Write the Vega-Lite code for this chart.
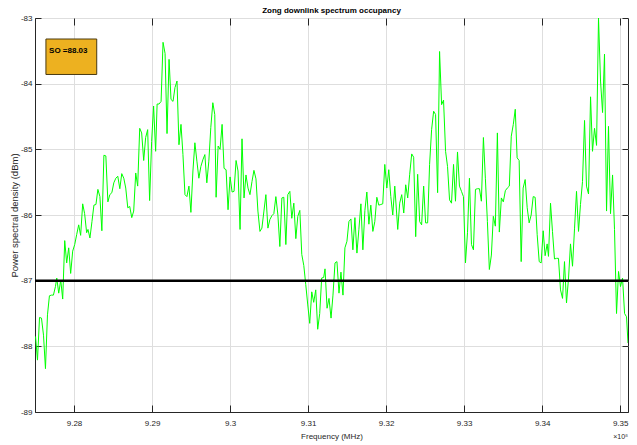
{
  "$schema": "https://vega.github.io/schema/vega-lite/v6.json",
  "width": 593,
  "height": 394,
  "autosize": {"type": "none"},
  "padding": {"left": 35, "top": 18, "right": 9, "bottom": 33},
  "background": "white",
  "title": {"text": "Zong downlink spectrum occupancy", "fontSize": 8, "fontWeight": "bold", "color": "#000000", "offset": -1},
  "config": {
    "font": "Liberation Sans, Arial, sans-serif",
    "view": {"stroke": "#262626", "strokeWidth": 1},
    "axis": {"domainColor": "#262626", "tickColor": "#262626", "labelColor": "#262626", "titleColor": "#262626", "gridColor": "#dedede", "gridWidth": 1, "labelFontSize": 8, "titleFontWeight": "normal"}
  },
  "datasets": {
    "psd": [
      {"freq":927.507,"psd":-87.85},{"freq":927.532,"psd":-88.21},{"freq":927.558,"psd":-87.56},{"freq":927.583,"psd":-87.57},{"freq":927.609,"psd":-87.83},{"freq":927.634,"psd":-88.34},{"freq":927.660,"psd":-87.52},{"freq":927.685,"psd":-87.23},{"freq":927.711,"psd":-87.22},{"freq":927.736,"psd":-87.22},{"freq":927.762,"psd":-87.09},{"freq":927.779,"psd":-86.96},{"freq":927.804,"psd":-87.19},{"freq":927.830,"psd":-86.99},{"freq":927.855,"psd":-87.28},{"freq":927.881,"psd":-86.39},{"freq":927.906,"psd":-86.73},{"freq":927.932,"psd":-86.50},{"freq":927.957,"psd":-86.89},{"freq":927.983,"psd":-86.55},
      {"freq":928.009,"psd":-86.45},{"freq":928.034,"psd":-86.30},{"freq":928.060,"psd":-86.15},{"freq":928.085,"psd":-86.31},{"freq":928.111,"psd":-85.83},{"freq":928.136,"psd":-85.98},{"freq":928.162,"psd":-86.27},{"freq":928.179,"psd":-86.22},{"freq":928.204,"psd":-86.35},{"freq":928.230,"psd":-86.10},{"freq":928.255,"psd":-85.85},{"freq":928.281,"psd":-85.84},{"freq":928.306,"psd":-85.61},{"freq":928.332,"psd":-85.72},{"freq":928.357,"psd":-86.24},{"freq":928.383,"psd":-85.09},{"freq":928.408,"psd":-85.10},{"freq":928.434,"psd":-85.80},{"freq":928.459,"psd":-85.69},{"freq":928.485,"psd":-85.66},
      {"freq":928.510,"psd":-85.51},{"freq":928.536,"psd":-85.44},{"freq":928.561,"psd":-85.41},{"freq":928.587,"psd":-85.60},{"freq":928.612,"psd":-85.37},{"freq":928.638,"psd":-85.44},{"freq":928.663,"psd":-85.59},{"freq":928.689,"psd":-85.89},{"freq":928.714,"psd":-85.87},{"freq":928.740,"psd":-86.04},{"freq":928.765,"psd":-85.94},{"freq":928.791,"psd":-85.36},{"freq":928.816,"psd":-85.56},{"freq":928.842,"psd":-84.68},{"freq":928.867,"psd":-84.75},{"freq":928.893,"psd":-85.17},{"freq":928.918,"psd":-84.82},{"freq":928.944,"psd":-84.70},{"freq":928.969,"psd":-85.78},{"freq":928.995,"psd":-84.88},
      {"freq":929.020,"psd":-84.34},{"freq":929.046,"psd":-85.03},{"freq":929.065,"psd":-84.31},{"freq":929.090,"psd":-84.31},{"freq":929.116,"psd":-84.27},{"freq":929.141,"psd":-83.37},{"freq":929.167,"psd":-83.54},{"freq":929.192,"psd":-84.76},{"freq":929.218,"psd":-83.63},{"freq":929.243,"psd":-84.24},{"freq":929.269,"psd":-84.27},{"freq":929.294,"psd":-84.06},{"freq":929.320,"psd":-83.96},{"freq":929.345,"psd":-84.93},{"freq":929.371,"psd":-84.62},{"freq":929.396,"psd":-85.08},{"freq":929.422,"psd":-85.69},{"freq":929.447,"psd":-85.72},{"freq":929.473,"psd":-85.56},{"freq":929.498,"psd":-85.96},
      {"freq":929.524,"psd":-85.33},{"freq":929.549,"psd":-84.90},{"freq":929.575,"psd":-85.18},{"freq":929.600,"psd":-85.44},{"freq":929.626,"psd":-85.26},{"freq":929.651,"psd":-85.16},{"freq":929.677,"psd":-85.08},{"freq":929.702,"psd":-85.51},{"freq":929.728,"psd":-85.18},{"freq":929.753,"psd":-84.67},{"freq":929.779,"psd":-84.29},{"freq":929.804,"psd":-84.47},{"freq":929.821,"psd":-85.73},{"freq":929.847,"psd":-84.95},{"freq":929.872,"psd":-85.00},{"freq":929.898,"psd":-84.62},{"freq":929.923,"psd":-85.29},{"freq":929.949,"psd":-85.31},{"freq":929.974,"psd":-85.92},{"freq":930.000,"psd":-85.42},
      {"freq":930.026,"psd":-85.65},{"freq":930.051,"psd":-85.64},{"freq":930.077,"psd":-85.17},{"freq":930.102,"psd":-85.33},{"freq":930.128,"psd":-86.22},{"freq":930.153,"psd":-84.84},{"freq":930.179,"psd":-85.74},{"freq":930.204,"psd":-85.39},{"freq":930.230,"psd":-85.59},{"freq":930.255,"psd":-85.69},{"freq":930.281,"psd":-85.49},{"freq":930.306,"psd":-85.32},{"freq":930.332,"psd":-85.45},{"freq":930.357,"psd":-85.94},{"freq":930.383,"psd":-86.25},{"freq":930.408,"psd":-86.20},{"freq":930.434,"psd":-85.94},{"freq":930.459,"psd":-85.69},{"freq":930.485,"psd":-86.20},{"freq":930.510,"psd":-86.07},
      {"freq":930.536,"psd":-86.01},{"freq":930.561,"psd":-85.98},{"freq":930.587,"psd":-85.72},{"freq":930.613,"psd":-86.00},{"freq":930.638,"psd":-86.48},{"freq":930.664,"psd":-85.74},{"freq":930.689,"psd":-85.73},{"freq":930.715,"psd":-86.45},{"freq":930.740,"psd":-85.69},{"freq":930.766,"psd":-85.64},{"freq":930.791,"psd":-86.05},{"freq":930.817,"psd":-85.82},{"freq":930.843,"psd":-86.36},{"freq":930.868,"psd":-86.02},{"freq":930.894,"psd":-85.93},{"freq":930.919,"psd":-86.60},{"freq":930.945,"psd":-86.77},{"freq":930.970,"psd":-87.06},{"freq":930.996,"psd":-87.37},{"freq":931.021,"psd":-87.65},
      {"freq":931.047,"psd":-87.17},{"freq":931.072,"psd":-87.33},{"freq":931.098,"psd":-87.14},{"freq":931.123,"psd":-87.74},{"freq":931.149,"psd":-87.50},{"freq":931.174,"psd":-86.96},{"freq":931.200,"psd":-86.95},{"freq":931.217,"psd":-86.82},{"freq":931.243,"psd":-87.42},{"freq":931.268,"psd":-87.27},{"freq":931.294,"psd":-87.57},{"freq":931.319,"psd":-87.22},{"freq":931.345,"psd":-86.73},{"freq":931.370,"psd":-86.71},{"freq":931.396,"psd":-87.19},{"freq":931.421,"psd":-86.87},{"freq":931.447,"psd":-87.22},{"freq":931.472,"psd":-86.50},{"freq":931.498,"psd":-86.40},{"freq":931.523,"psd":-86.10},
      {"freq":931.549,"psd":-86.06},{"freq":931.574,"psd":-86.53},{"freq":931.600,"psd":-86.04},{"freq":931.626,"psd":-86.58},{"freq":931.651,"psd":-86.22},{"freq":931.677,"psd":-85.83},{"freq":931.702,"psd":-86.53},{"freq":931.728,"psd":-85.93},{"freq":931.753,"psd":-85.65},{"freq":931.779,"psd":-86.14},{"freq":931.804,"psd":-85.85},{"freq":931.830,"psd":-86.25},{"freq":931.855,"psd":-86.10},{"freq":931.881,"psd":-85.73},{"freq":931.906,"psd":-85.85},{"freq":931.932,"psd":-85.84},{"freq":931.957,"psd":-85.83},{"freq":931.983,"psd":-85.23},{"freq":932.009,"psd":-85.59},{"freq":932.034,"psd":-85.31},
      {"freq":932.060,"psd":-85.72},{"freq":932.085,"psd":-86.00},{"freq":932.111,"psd":-85.56},{"freq":932.149,"psd":-86.22},{"freq":932.174,"psd":-85.82},{"freq":932.200,"psd":-85.69},{"freq":932.226,"psd":-85.97},{"freq":932.251,"psd":-85.54},{"freq":932.277,"psd":-85.74},{"freq":932.302,"psd":-85.38},{"freq":932.328,"psd":-85.07},{"freq":932.353,"psd":-85.12},{"freq":932.379,"psd":-86.33},{"freq":932.404,"psd":-85.38},{"freq":932.430,"psd":-86.10},{"freq":932.455,"psd":-86.15},{"freq":932.481,"psd":-85.56},{"freq":932.506,"psd":-86.12},{"freq":932.532,"psd":-86.12},{"freq":932.557,"psd":-85.23},
      {"freq":932.583,"psd":-84.70},{"freq":932.609,"psd":-84.42},{"freq":932.634,"psd":-84.47},{"freq":932.660,"psd":-85.66},{"freq":932.685,"psd":-83.51},{"freq":932.711,"psd":-84.32},{"freq":932.736,"psd":-84.25},{"freq":932.762,"psd":-85.03},{"freq":932.787,"psd":-85.26},{"freq":932.813,"psd":-85.77},{"freq":932.838,"psd":-85.82},{"freq":932.864,"psd":-85.23},{"freq":932.889,"psd":-85.79},{"freq":932.915,"psd":-85.04},{"freq":932.940,"psd":-85.56},{"freq":932.966,"psd":-85.64},{"freq":932.991,"psd":-85.72},{"freq":933.017,"psd":-86.73},{"freq":933.043,"psd":-86.27},{"freq":933.068,"psd":-85.44},
      {"freq":933.094,"psd":-86.45},{"freq":933.119,"psd":-86.53},{"freq":933.145,"psd":-85.61},{"freq":933.170,"psd":-85.60},{"freq":933.196,"psd":-85.60},{"freq":933.221,"psd":-85.79},{"freq":933.247,"psd":-84.82},{"freq":933.272,"psd":-85.44},{"freq":933.298,"psd":-86.10},{"freq":933.323,"psd":-86.83},{"freq":933.349,"psd":-86.61},{"freq":933.374,"psd":-86.02},{"freq":933.400,"psd":-86.17},{"freq":933.426,"psd":-84.75},{"freq":933.451,"psd":-86.26},{"freq":933.477,"psd":-85.74},{"freq":933.502,"psd":-85.80},{"freq":933.528,"psd":-85.63},{"freq":933.553,"psd":-85.59},{"freq":933.579,"psd":-85.56},
      {"freq":933.604,"psd":-84.80},{"freq":933.630,"psd":-84.62},{"freq":933.655,"psd":-84.39},{"freq":933.679,"psd":-85.13},{"freq":933.705,"psd":-85.17},{"freq":933.731,"psd":-86.71},{"freq":933.756,"psd":-85.59},{"freq":933.782,"psd":-85.46},{"freq":933.808,"psd":-85.89},{"freq":933.833,"psd":-86.12},{"freq":933.859,"psd":-86.00},{"freq":933.885,"psd":-85.72},{"freq":933.910,"psd":-85.73},{"freq":933.936,"psd":-86.30},{"freq":933.962,"psd":-86.71},{"freq":933.987,"psd":-86.73},{"freq":934.013,"psd":-86.24},{"freq":934.038,"psd":-86.62},{"freq":934.064,"psd":-86.44},{"freq":934.081,"psd":-86.63},
      {"freq":934.107,"psd":-85.82},{"freq":934.132,"psd":-86.25},{"freq":934.158,"psd":-86.67},{"freq":934.184,"psd":-86.66},{"freq":934.209,"psd":-86.66},{"freq":934.235,"psd":-87.14},{"freq":934.261,"psd":-87.27},{"freq":934.286,"psd":-86.71},{"freq":934.312,"psd":-87.34},{"freq":934.338,"psd":-86.96},{"freq":934.363,"psd":-86.44},{"freq":934.389,"psd":-86.78},{"freq":934.415,"psd":-86.20},{"freq":934.440,"psd":-85.64},{"freq":934.466,"psd":-86.25},{"freq":934.491,"psd":-85.84},{"freq":934.517,"psd":-85.49},{"freq":934.543,"psd":-84.56},{"freq":934.568,"psd":-85.56},{"freq":934.594,"psd":-85.68},
      {"freq":934.620,"psd":-84.20},{"freq":934.645,"psd":-85.03},{"freq":934.671,"psd":-84.68},{"freq":934.697,"psd":-84.94},{"freq":934.722,"psd":-83.00},{"freq":934.748,"psd":-83.96},{"freq":934.774,"psd":-84.44},{"freq":934.799,"psd":-83.55},{"freq":934.825,"psd":-85.94},{"freq":934.850,"psd":-84.65},{"freq":934.876,"psd":-85.98},{"freq":934.902,"psd":-85.39},{"freq":934.927,"psd":-86.22},{"freq":934.953,"psd":-87.50},{"freq":934.979,"psd":-86.86},{"freq":935.004,"psd":-87.09},{"freq":935.030,"psd":-86.96},{"freq":935.056,"psd":-87.50},{"freq":935.081,"psd":-87.55},{"freq":935.100,"psd":-87.95}
    ],
    "box": [{"x1": 927.640, "x2": 928.291, "y1": -83.32, "y2": -83.86}],
    "note": [{"freq": 927.680, "psd": -83.50, "label": "SO =88.03"}],
    "threshold": [{"level": -87}],
    "scale_note": [{"freq": 935.1, "psd": -89, "label": "×10⁸"}]
  },
  "resolve": {"axis": {"x": "independent", "y": "independent"}},
  "layer": [
    {
      "data": {"name": "psd"},
      "mark": {"type": "line", "color": "#00ff00", "strokeWidth": 1, "clip": true},
      "encoding": {
        "x": {"field": "freq", "type": "quantitative", "scale": {"domain": [927.5, 935.1], "nice": false, "zero": false},
              "axis": {"title": "Frequency (MHz)", "titleFontSize": 8, "values": [928, 929, 930, 931, 932, 933, 934, 935], "labelExpr": "datum.value / 100 + ''", "grid": true, "tickSize": -7, "labelPadding": 14, "titlePadding": 5, "domain": true}},
        "y": {"field": "psd", "type": "quantitative", "scale": {"domain": [-89, -83], "nice": false, "zero": false},
              "axis": {"title": "Power spectral density (dBm)", "titleFontSize": 9.5, "values": [-89, -88, -87, -86, -85, -84, -83], "labelExpr": "'' + datum.value", "grid": true, "tickSize": -6, "labelPadding": 9, "titlePadding": 1, "domain": true}}
      }
    },
    {
      "data": {"name": "box"},
      "mark": {"type": "rect", "fill": "#EDB120", "stroke": "#4a3a10", "strokeWidth": 1},
      "encoding": {
        "x": {"field": "x1", "type": "quantitative", "axis": {"orient": "top", "title": null, "labels": false, "grid": false, "domain": false, "values": [928, 929, 930, 931, 932, 933, 934, 935], "tickSize": -7}},
        "x2": {"field": "x2"},
        "y": {"field": "y1", "type": "quantitative", "axis": {"orient": "right", "title": null, "labels": false, "grid": false, "domain": false, "values": [-89, -88, -87, -86, -85, -84, -83], "tickSize": -6}},
        "y2": {"field": "y2"}
      }
    },
    {
      "data": {"name": "note"},
      "mark": {"type": "text", "align": "left", "baseline": "middle", "fontSize": 8, "fontWeight": "bold", "color": "#000000"},
      "encoding": {
        "x": {"field": "freq", "type": "quantitative", "axis": null},
        "y": {"field": "psd", "type": "quantitative", "axis": null},
        "text": {"field": "label"}
      }
    },
    {
      "data": {"name": "threshold"},
      "mark": {"type": "rule", "color": "#000000", "strokeWidth": 2.5},
      "encoding": {
        "y": {"field": "level", "type": "quantitative", "axis": null}
      }
    },
    {
      "data": {"name": "scale_note"},
      "mark": {"type": "text", "align": "right", "baseline": "middle", "fontSize": 7, "color": "#262626", "dy": 25},
      "encoding": {
        "x": {"field": "freq", "type": "quantitative", "axis": null},
        "y": {"field": "psd", "type": "quantitative", "axis": null},
        "text": {"field": "label"}
      }
    }
  ]
}
